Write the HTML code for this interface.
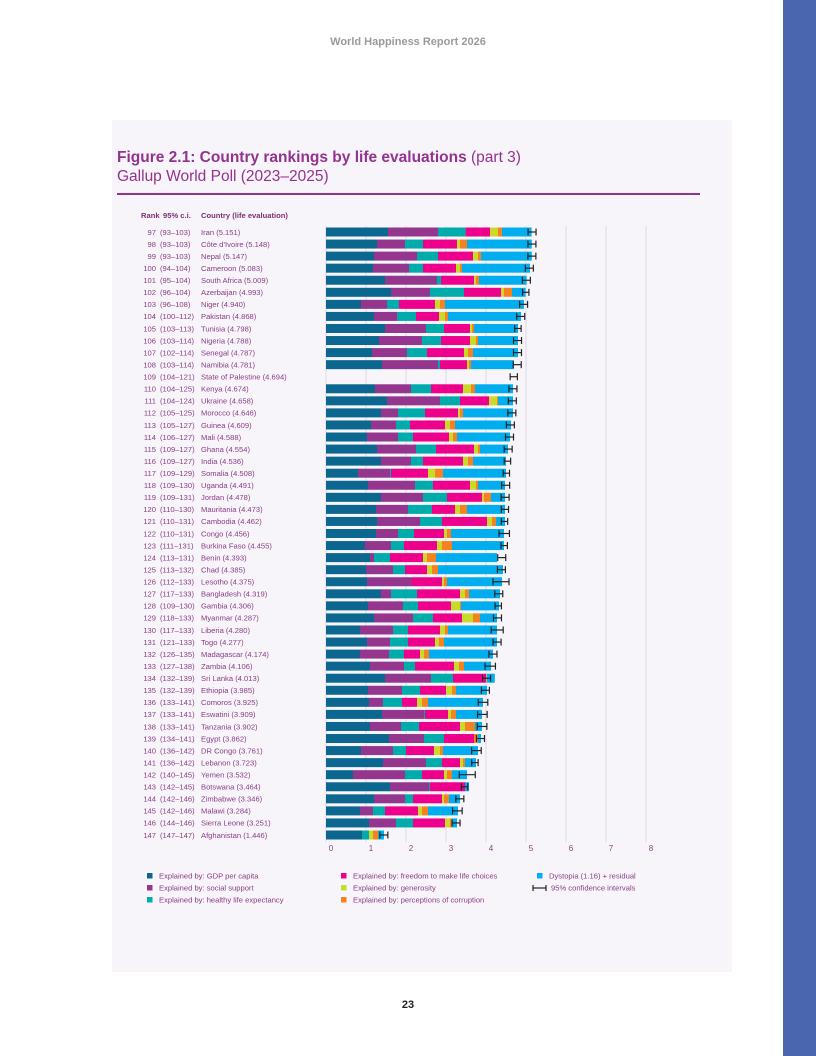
<!DOCTYPE html>
<html><head><meta charset="utf-8"><style>
body{margin:0;width:816px;height:1056px;position:relative;background:#fff;font-family:"Liberation Sans",sans-serif;overflow:hidden}
.abs{position:absolute}
</style></head><body>
<div class="abs" style="left:783px;top:0;width:33px;height:1056px;background:#4a67ae"></div>
<div class="abs" style="left:0;width:816px;top:36px;text-align:center;color:#9a9a9a;font-weight:bold;font-size:11px">World Happiness Report 2026</div>
<div class="abs" style="left:112px;top:120px;width:620px;height:852px;background:#f7f5f9"></div>
<div class="abs" style="left:117px;top:149px;color:#93338f;font-size:15.5px"><b>Figure 2.1: Country rankings by life evaluations</b> (part 3)</div>
<div class="abs" style="left:117px;top:168px;color:#93338f;font-size:15.5px">Gallup World Poll (2023–2025)</div>
<div class="abs" style="left:117px;top:193px;width:583px;height:1.5px;background:#93338f"></div>
<div class="abs" style="left:0;width:816px;top:999px;text-align:center;font-weight:bold;font-size:11px;color:#222">23</div>
<svg id="chart" class="abs" style="left:0;top:0" width="816" height="1056"></svg>
<script>
const ranks=[97,98,99,100,101,102,103,104,105,106,107,108,109,110,111,112,113,114,115,116,117,118,119,120,121,122,123,124,125,126,127,128,129,130,131,132,133,134,135,136,137,138,139,140,141,142,143,144,145,146,147];
const cis=["93–103","93–103","93–103","94–104","95–104","96–104","96–108","100–112","103–113","103–114","102–114","103–114","104–121","104–125","104–124","105–125","105–127","106–127","109–127","109–127","109–129","109–130","109–131","110–130","110–131","110–131","111–131","113–131","113–132","112–133","117–133","109–130","118–133","117–133","121–133","126–135","127–138","132–139","132–139","133–141","133–141","133–141","134–141","136–142","136–142","140–145","142–145","142–146","142–146","144–146","147–147"];
const countries=["Iran","Côte d’Ivoire","Nepal","Cameroon","South Africa","Azerbaijan","Niger","Pakistan","Tunisia","Nigeria","Senegal","Namibia","State of Palestine","Kenya","Ukraine","Morocco","Guinea","Mali","Ghana","India","Somalia","Uganda","Jordan","Mauritania","Cambodia","Congo","Burkina Faso","Benin","Chad","Lesotho","Bangladesh","Gambia","Myanmar","Liberia","Togo","Madagascar","Zambia","Sri Lanka","Ethiopia","Comoros","Eswatini","Tanzania","Egypt","DR Congo","Lebanon","Yemen","Botswana","Zimbabwe","Malawi","Sierra Leone","Afghanistan"];
const scores=[5.151,5.148,5.147,5.083,5.009,4.993,4.940,4.868,4.798,4.788,4.787,4.781,4.694,4.674,4.658,4.646,4.609,4.588,4.554,4.536,4.508,4.491,4.478,4.473,4.462,4.456,4.455,4.393,4.385,4.375,4.319,4.306,4.287,4.280,4.277,4.174,4.106,4.013,3.985,3.925,3.909,3.902,3.862,3.761,3.723,3.532,3.464,3.346,3.284,3.251,1.446];
const gdp=[1.55,1.275,1.2,1.175,1.475,1.625,0.875,1.2,1.475,1.325,1.15,1.4,null,1.225,1.525,1.375,1.125,1.025,1.275,1.375,0.8,1.05,1.375,1.25,1.275,1.25,0.975,1.1,1.0,1.025,1.375,1.05,1.2,0.85,1.025,0.85,1.1,1.475,1.05,1.075,1.4,1.1,1.575,0.875,1.425,0.675,1.6,1.2,0.85,1.075,0.9];
const social=[1.25,0.7,1.075,0.9,1.3,0.975,0.65,0.575,1.025,1.075,0.875,1.4,null,0.9,1.325,0.425,0.625,0.775,0.975,0.75,0.8,1.175,1.05,0.8,1.075,0.55,0.65,0.1,0.675,1.125,0.25,0.875,0.975,0.825,0.575,0.725,0.85,1.15,0.85,0.35,1.05,0.775,0.875,0.8,1.075,1.3,0.975,0.775,0.325,0.675,0];
const health=[0.69,0.45,0.525,0.35,0.1,0.85,0.3,0.475,0.45,0.475,0.5,0.05,null,0.5,0.5,0.675,0.35,0.375,0.5,0.3,0.025,0.45,0.6,0.6,0.55,0.4,0.325,0.4,0.3,0,0.65,0.375,0.5,0.375,0.45,0.375,0.275,0.55,0.45,0.475,0.025,0.45,0.5,0.325,0.4,0.425,0.025,0.2,0.3,0.425,0.175];
const freedom=[0.61,0.85,0.875,0.825,0.825,0.925,0.9,0.575,0.65,0.725,0.925,0.675,null,0.8,0.725,0.825,0.875,0.9,0.95,1.0,0.925,0.925,0.875,0.575,1.125,0.75,0.825,0.825,0.55,0.75,1.075,0.825,0.725,0.8,0.675,0.4,0.975,0.825,0.65,0.375,0.575,1.025,0.75,0.7,0.45,0.55,0.875,0.725,0.825,0.8,0];
const generosity=[0.2,0.075,0.125,0.1,0.05,0.075,0.125,0.15,0.05,0.15,0.1,0.05,null,0.2,0.2,0.05,0.125,0.1,0.1,0.125,0.175,0.15,0.05,0.125,0.125,0.075,0.125,0.1,0.125,0.05,0.125,0.225,0.275,0.125,0.1,0.1,0.125,0.01,0.15,0.125,0.075,0.125,0,0.15,0.075,0.075,0,0.05,0.1,0.125,0.1];
const corruption=[0.1,0.175,0.075,0.05,0.075,0.2,0.125,0.075,0.05,0.05,0.125,0.05,null,0.1,0.025,0.075,0.125,0.1,0.05,0.125,0.2,0.05,0.175,0.175,0.1,0.1,0.25,0.225,0.15,0.075,0.1,0.025,0.175,0.075,0.125,0.125,0.125,0.01,0.1,0.15,0.125,0.25,0.1,0.075,0.05,0.125,0,0.125,0.15,0.05,0.125];
const dystopia=[0.74,1.62,1.27,1.7,1.19,0.34,1.975,1.825,1.1,1.0,1.125,1.075,null,0.95,0.375,1.25,1.4,1.325,0.7,0.825,1.575,0.675,0.35,0.95,0.225,1.325,1.3,1.525,1.625,1.375,0.775,0.95,0.425,1.225,1.325,1.6,0.675,0.2,0.775,1.375,0.65,0.175,0.075,0.875,0.275,0.375,0.1,0.275,0.75,0.125,0.15];
const ciHalf=[0.1,0.1,0.1,0.1,0.1,0.08,0.1,0.1,0.08,0.1,0.1,0.1,0.09,0.1,0.1,0.1,0.1,0.1,0.1,0.08,0.08,0.1,0.1,0.09,0.08,0.13,0.08,0.1,0.1,0.2,0.1,0.08,0.1,0.15,0.1,0.1,0.13,0.1,0.1,0.12,0.12,0.12,0.1,0.12,0.08,0.2,0.08,0.1,0.12,0.1,0.1];
const xTicks=[0,1,2,3,4,5,6,7,8];
const seriesNames=["gdp","social-support","health","freedom","generosity","corruption","dystopia"];
const seriesData=[gdp,social,health,freedom,generosity,corruption,dystopia];
const colors=["#0b6690","#94358e","#00acab","#ec008c","#c9da2a","#f58220","#00aeef"];

const NS="http://www.w3.org/2000/svg";
const svg=document.getElementById('chart');
const x0=326,unit=40,y0=232,step=12.06,bh=9;
const xs=v=>x0+v*unit;
const ys=i=>y0+i*step;
function mk(tag,attrs,parent){const e=document.createElementNS(NS,tag);for(const k in attrs)e.setAttribute(k,attrs[k]);(parent||svg).appendChild(e);return e;}
const lab="#8a3d87";
xTicks.forEach(t=>{
  const l=mk('line',{x1:xs(t),x2:xs(t),y1:226,y2:842,stroke:'#e3dde8','stroke-width':1.2});
  
  
  const tx=mk('text',{x:xs(t)+5,y:851,'font-size':8,fill:lab,'text-anchor':'middle','font-family':'Liberation Sans, sans-serif'});
  tx.textContent=t;
  
  
});
const hdr=[[141,'Rank'],[163,'95% c.i.'],[201,'Country (life evaluation)']];
hdr.forEach(h=>{const t=mk('text',{x:h[0],y:218,'font-size':7.6,'font-weight':'bold',fill:'#7a2f78','font-family':'Liberation Sans, sans-serif'});t.textContent=h[1];

});
ranks.forEach((r,i)=>{
  const y=ys(i);
  const tr=mk('text',{x:156,y:y+2.8,'font-size':7.6,fill:lab,'text-anchor':'end','font-family':'Liberation Sans, sans-serif'});tr.textContent=r;
  
  
  const tc=mk('text',{x:160,y:y+2.8,'font-size':7.6,fill:lab,'font-family':'Liberation Sans, sans-serif'});tc.textContent='('+cis[i]+')';
  
  
  const tn=mk('text',{x:201,y:y+2.8,'font-size':7.6,fill:lab,'font-family':'Liberation Sans, sans-serif'});tn.textContent=countries[i]+' ('+scores[i].toFixed(3)+')';
  
  
  let acc=0;
  seriesData.forEach((s,k)=>{
    const v=s[i]; if(v==null||v<=0) return;
    const rc=mk('rect',{x:xs(acc),y:y-bh/2,width:v*unit,height:bh,fill:colors[k]});
    
    
    acc+=v;
  });
  const lo=xs(scores[i]-ciHalf[i]),hi=xs(scores[i]+ciHalf[i]);
  const g=mk('g',{stroke:'#222','stroke-width':1.2});
  
  
  mk('line',{x1:lo,x2:hi,y1:y,y2:y},g);
  mk('line',{x1:lo,x2:lo,y1:y-3.5,y2:y+3.5},g);
  mk('line',{x1:hi,x2:hi,y1:y-3.5,y2:y+3.5},g);
});
const legend=[[147,876,0,'Explained by: GDP per capita'],[147,888,1,'Explained by: social support'],[147,900,2,'Explained by: healthy life expectancy'],[341,876,3,'Explained by: freedom to make life choices'],[341,888,4,'Explained by: generosity'],[341,900,5,'Explained by: perceptions of corruption'],[537,876,6,'Dystopia (1.16) + residual']];
legend.forEach(L=>{
  const g=mk('g',{});
  
  
  mk('rect',{x:L[0],y:L[1]-3,width:5.5,height:5.5,fill:colors[L[2]]},g);
  const t=mk('text',{x:L[0]+12,y:L[1]+2.5,'font-size':7.6,fill:lab,'font-family':'Liberation Sans, sans-serif'},g);t.textContent=L[3];
});
const gc=mk('g',{});


mk('line',{x1:533,x2:546,y1:888,y2:888,stroke:'#222','stroke-width':1.2},gc);
mk('line',{x1:533,x2:533,y1:885,y2:891,stroke:'#222','stroke-width':1.2},gc);
mk('line',{x1:546,x2:546,y1:885,y2:891,stroke:'#222','stroke-width':1.2},gc);
const tci=mk('text',{x:551,y:890.5,'font-size':7.6,fill:lab,'font-family':'Liberation Sans, sans-serif'},gc);tci.textContent='95% confidence intervals';
</script>
</body></html>
